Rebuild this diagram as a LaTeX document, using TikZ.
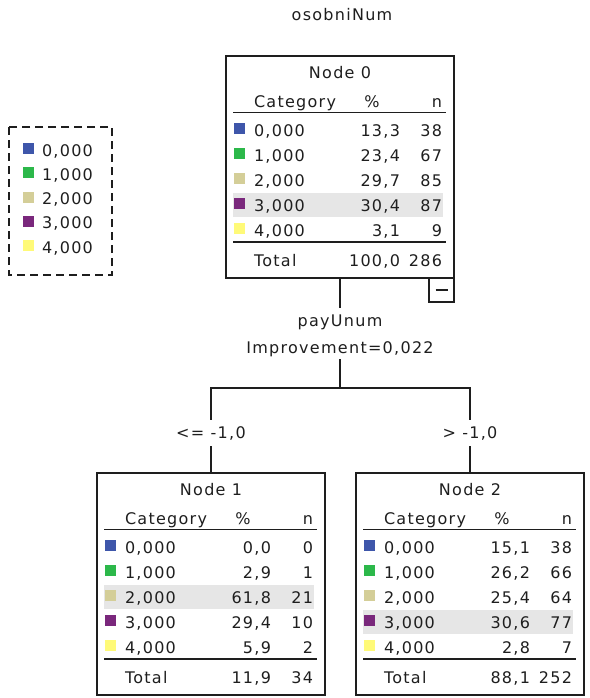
\documentclass[tikz,border=0pt]{standalone}
\usepackage{fontspec}
\setmainfont{DejaVu Sans}[LetterSpace=8]
\usetikzlibrary{calc}

\definecolor{cat0}{RGB}{62,86,170}
\definecolor{cat1}{RGB}{44,184,74}
\definecolor{cat2}{RGB}{212,206,152}
\definecolor{cat3}{RGB}{122,40,124}
\definecolor{cat4}{RGB}{255,250,120}
\definecolor{rowgray}{RGB}{230,230,230}
\definecolor{inkgray}{RGB}{30,30,30}

\newcommand\DrawTreeNode[8]{% name, left, top, title, marked row, rows, total %, total n
  \node[tree box] (#1) at (#2,#3) {};
  \begin{scope}[shift={(#2,#3)}]
    \fill[rowgray] (7,62+25*#5) rectangle (217,86+25*#5); % marked row
    \node[anchor=base] (#1-title) at (114,22.5) {#4};
    \node[anchor=base west] (#1-hcat) at (28,51.5) {Category};
    \node[anchor=base] (#1-hpct) at (146,51.5) {\%};
    \node[anchor=base east] (#1-hn) at (216,51.5) {n};
    \draw[head rule] (7,56) -- (220,56);
    \foreach \pct/\cnt [count=\i from 0] in {#6} {
      \node[swatch=cat\i] (#1-key\i) at (13,72.5+25*\i) {};
      \node[anchor=base west] (#1-cat\i) at (28,80+25*\i) {\i,000};
      \node[anchor=base east] (#1-pct\i) at (174,80+25*\i) {\pct};
      \node[anchor=base east] (#1-n\i) at (216,80+25*\i) {\cnt};
    }
    \draw[total rule] (7,186) -- (220,186);
    \node[anchor=base west] (#1-tot) at (28,210) {Total};
    \node[anchor=base east] (#1-totpct) at (174,210) {#7};
    \node[anchor=base east] (#1-totn) at (216,210) {#8};
  \end{scope}
}

\tikzset{%
  every node/.style={font=\fontsize{16}{19}\selectfont, inner sep=0pt,
    outer sep=0pt, text=inkgray},
  tree box/.style={draw=inkgray, line width=1.4pt, minimum width=228pt,
    minimum height=222pt, anchor=north west},
  swatch/.style={fill=#1, minimum width=11pt, minimum height=11pt},
  head rule/.style={draw=inkgray, line width=0.9pt},
  total rule/.style={draw=inkgray, line width=1.4pt},
  edge line/.style={draw=inkgray, line width=1.3pt},
  split text/.style={anchor=base, inner sep=6.5pt}
}

\begin{document}
\begin{tikzpicture}[x=1pt,y=-1pt]

\useasboundingbox (0,0) rectangle (589,698);

%% legend

\draw[inkgray, line width=1.3pt, dash pattern=on 8pt off 5pt]
  (9,127) rectangle (112,275);
\foreach \i in {0,...,4} {
  \node[swatch=cat\i] (key\i) at (28.5,148.5+24.3*\i) {};
  \node[anchor=base west] (keytext\i) at (42,156+24.3*\i) {\i,000};
}

%% tree nodes

\node (title) at (342,15) {osobniNum};

\DrawTreeNode{n0}{226}{56}{Node 0}{3}%
  {{13,3}/38,{23,4}/67,{29,7}/85,{30,4}/87,{3,1}/9}{100,0}{286}
\DrawTreeNode{n1}{97}{473}{Node 1}{2}%
  {{0,0}/0,{2,9}/1,{61,8}/21,{29,4}/10,{5,9}/2}{11,9}{34}
\DrawTreeNode{n2}{356}{473}{Node 2}{3}%
  {{15,1}/38,{26,2}/66,{25,4}/64,{30,6}/77,{2,8}/7}{88,1}{252}

% collapse toggle
\node[draw=inkgray, line width=1.3pt, minimum width=25pt, minimum height=24pt,
  anchor=north east] (n0toggle) at (n0.south east) {};
\draw[edge line] ($(n0toggle.center)+(-6,0)$) -- ($(n0toggle.center)+(6,0)$);

%% split and branches

\node[split text] (split) at (340,326) {payUnum};
\node[anchor=base, inner sep=3pt] (gain) at (340,353) {Improvement=0,022};
\coordinate (fork) at (340,388);
\node[split text] (le) at (211,438) {<= -1,0};
\node[split text] (gt) at (470,438) {> -1,0};

\draw[edge line] (n0.south) -- (split.north);
\draw[edge line] (gain.south) -- (fork);
\draw[edge line] (le.north) |- (fork) -| (gt.north);
\draw[edge line] (le.south) -- (n1.north);
\draw[edge line] (gt.south) -- (n2.north);

\end{tikzpicture}
\end{document}
